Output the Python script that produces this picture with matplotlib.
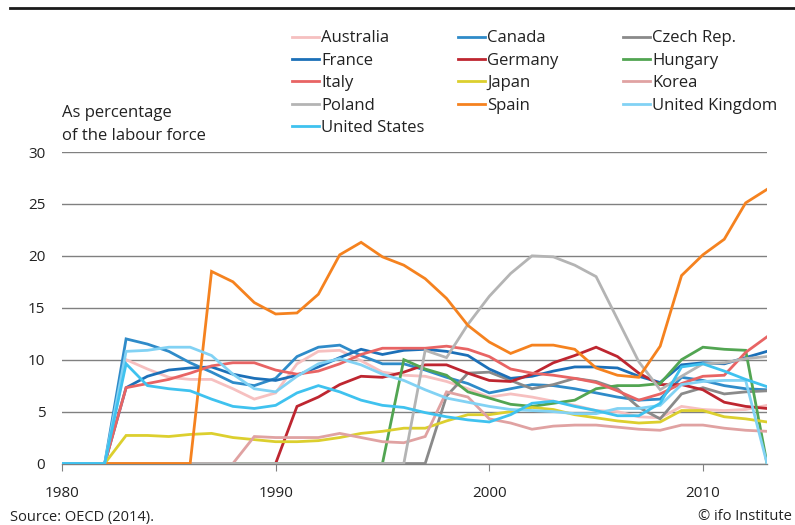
import numpy as np
import matplotlib
matplotlib.use("Agg")
import matplotlib.pyplot as plt
from matplotlib.lines import Line2D

plt.rcParams["font.family"] = ["Open Sans", "DejaVu Sans"]
plt.rcParams["text.color"] = "#222222"

years = np.arange(1980, 2014)

# unemployment rates, % of labour force (0 = no data in the source chart)
australia = [0, 0, 0, 10.0, 9.1, 8.3, 8.1, 8.1, 7.2, 6.2, 6.8, 9.6, 10.8, 10.9, 9.9, 8.8, 8.5,
             8.4, 7.9, 7.2, 6.4, 6.7, 6.4, 6.0, 5.6, 5.1, 5.0, 4.5, 4.4, 5.5, 5.2, 5.1, 5.2, 5.6]
canada = [0, 0, 0, 12.0, 11.5, 10.8, 9.7, 8.8, 7.8, 7.5, 8.2, 10.3, 11.2, 11.4, 10.4, 9.6, 9.6,
          9.0, 8.3, 7.7, 6.8, 7.2, 7.6, 7.5, 7.2, 6.8, 6.4, 6.1, 6.2, 8.3, 8.0, 7.5, 7.2, 7.1]
czech = [0, 0, 0, 0, 0, 0, 0, 0, 0, 0, 0, 0, 0, 0, 0, 0, 0,
         0, 6.5, 8.7, 8.8, 8.0, 7.2, 7.6, 8.2, 7.9, 7.2, 5.4, 4.3, 6.7, 7.3, 6.7, 6.9, 7.0]
france = [0, 0, 0, 7.3, 8.4, 9.0, 9.2, 9.3, 8.6, 8.2, 8.0, 8.5, 9.3, 10.2, 11.0, 10.5, 10.9,
          11.0, 10.8, 10.4, 9.1, 8.2, 8.4, 8.9, 9.3, 9.3, 9.2, 8.4, 7.8, 9.5, 9.7, 9.6, 10.2, 10.8]
germany = [0, 0, 0, 0, 0, 0, 0, 0, 0, 0, 0, 5.5, 6.4, 7.6, 8.4, 8.3, 8.8,
           9.5, 9.5, 8.7, 8.0, 7.9, 8.6, 9.7, 10.4, 11.2, 10.3, 8.7, 7.6, 7.6, 7.1, 5.9, 5.5, 5.3]
hungary = [0, 0, 0, 0, 0, 0, 0, 0, 0, 0, 0, 0, 0, 0, 0, 0, 10.0,
           9.1, 8.5, 6.9, 6.3, 5.7, 5.5, 5.8, 6.1, 7.2, 7.5, 7.5, 7.7, 10.0, 11.2, 11.0, 10.9, 0]
italy = [0, 0, 0, 7.3, 7.7, 8.1, 8.7, 9.4, 9.7, 9.7, 9.0, 8.6, 8.9, 9.6, 10.5, 11.1, 11.1,
         11.1, 11.3, 11.0, 10.3, 9.1, 8.7, 8.5, 8.2, 7.8, 7.0, 6.1, 6.7, 7.7, 8.4, 8.5, 10.7, 12.2]
japan = [0, 0, 0, 2.7, 2.7, 2.6, 2.8, 2.9, 2.5, 2.3, 2.1, 2.1, 2.2, 2.5, 2.9, 3.1, 3.4,
         3.4, 4.1, 4.7, 4.7, 5.0, 5.4, 5.2, 4.7, 4.4, 4.1, 3.9, 4.0, 5.1, 5.1, 4.5, 4.3, 4.0]
korea = [0, 0, 0, 0, 0, 0, 0, 0, 0, 2.6, 2.5, 2.5, 2.5, 2.9, 2.5, 2.1, 2.0,
         2.6, 6.9, 6.4, 4.3, 3.9, 3.3, 3.6, 3.7, 3.7, 3.5, 3.3, 3.2, 3.7, 3.7, 3.4, 3.2, 3.1]
poland = [0, 0, 0, 0, 0, 0, 0, 0, 0, 0, 0, 0, 0, 0, 0, 0, 0,
          10.9, 10.2, 13.4, 16.1, 18.3, 20.0, 19.9, 19.1, 18.0, 13.9, 9.8, 7.1, 8.4, 9.6, 9.7, 10.1, 10.3]
spain = [0, 0, 0, 0, 0, 0, 0, 18.5, 17.5, 15.5, 14.4, 14.5, 16.3, 20.1, 21.3, 19.9, 19.1,
         17.8, 15.9, 13.3, 11.7, 10.6, 11.4, 11.4, 11.0, 9.2, 8.5, 8.3, 11.3, 18.1, 20.1, 21.6, 25.1, 26.4]
uk = [0, 0, 0, 10.8, 10.9, 11.2, 11.2, 10.4, 8.6, 7.2, 6.9, 8.4, 9.6, 10.1, 9.5, 8.6, 8.0,
      7.1, 6.3, 5.9, 5.5, 5.2, 5.1, 5.0, 4.8, 4.8, 5.3, 5.3, 5.6, 7.6, 7.9, 8.0, 8.0, 0]
us = [0, 0, 0, 9.6, 7.5, 7.2, 7.0, 6.2, 5.5, 5.3, 5.6, 6.8, 7.5, 6.9, 6.1, 5.6, 5.4,
      4.9, 4.5, 4.2, 4.0, 4.7, 5.8, 6.0, 5.5, 5.1, 4.6, 4.6, 5.8, 9.3, 9.6, 8.9, 8.1, 7.4]

countries = ["Australia", "Canada", "Czech Rep.", "France", "Germany", "Hungary", "Italy",
             "Japan", "Korea", "Poland", "Spain", "United Kingdom", "United States"]
series = [australia, canada, czech, france, germany, hungary, italy,
          japan, korea, poland, spain, uk, us]
colors = ["#f6c0c0", "#2f8bc9", "#8a8a8a", "#1c70b8", "#be2630", "#52a552", "#e86464",
          "#dccf2e", "#e0a2a2", "#b4b4b4", "#f5821f", "#82d2f4", "#3fc2ef"]

fig = plt.figure(figsize=(7.95, 5.25), dpi=100)
W, H = 795, 525
ax = fig.add_axes([62 / W, 61.5 / H, (767 - 62) / W, (463.5 - 152) / H])

lines = {}
for name, vals, col in zip(countries, series, colors):
    ln, = ax.plot(years, vals, color=col, lw=2.0, solid_joinstyle="miter", zorder=3)
    lines[name] = ln

ax.set_xlim(1980, 2013)
ax.set_ylim(0, 30)
ax.set_yticks(range(0, 31, 5))
ax.set_xticks([1980, 1990, 2000, 2010])
ax.yaxis.grid(True, color="#808080", lw=1.0, zorder=1)
for s in ["top", "right", "left"]:
    ax.spines[s].set_visible(False)
ax.spines["bottom"].set_color("#808080")
ax.spines["bottom"].set_linewidth(1.0)
ax.tick_params(axis="y", length=0, pad=12, labelsize=11, labelcolor="#222222")
ax.tick_params(axis="x", length=5, color="#808080", pad=11, labelsize=11, labelcolor="#222222")
ax.set_axisbelow(True)

fig.text(62 / W, 1 - 124.5 / H, "As percentage\nof the labour force", fontsize=12,
         va="center", ha="left", linespacing=1.57)

# legend laid out in three columns, filled row by row
cols = [["Australia", "France", "Italy", "Poland", "United States"],
        ["Canada", "Germany", "Japan", "Spain"],
        ["Czech Rep.", "Hungary", "Korea", "United Kingdom"]]
col_x = [291.7, 457.5, 622.7]
for names, cx in zip(cols, col_x):
    fig.legend([lines[n] for n in names], names, loc="upper left",
               bbox_to_anchor=(cx / W, 1 - 30.5 / H), frameon=False, fontsize=12,
               borderpad=0, borderaxespad=0, handlelength=1.62, handletextpad=0.15,
               labelspacing=0.38)

fig.add_artist(Line2D([10 / W, 1.0], [1 - 8 / H, 1 - 8 / H], transform=fig.transFigure,
                      color="#1a1a1a", lw=2.0))
fig.text(10 / W, 1 - 517 / H, "Source: OECD (2014).", fontsize=10.5, va="center", ha="left")
fig.text(792 / W, 1 - 517 / H, "© ifo Institute", fontsize=10.5, va="center", ha="right")

fig.savefig("out.png", dpi=100)
